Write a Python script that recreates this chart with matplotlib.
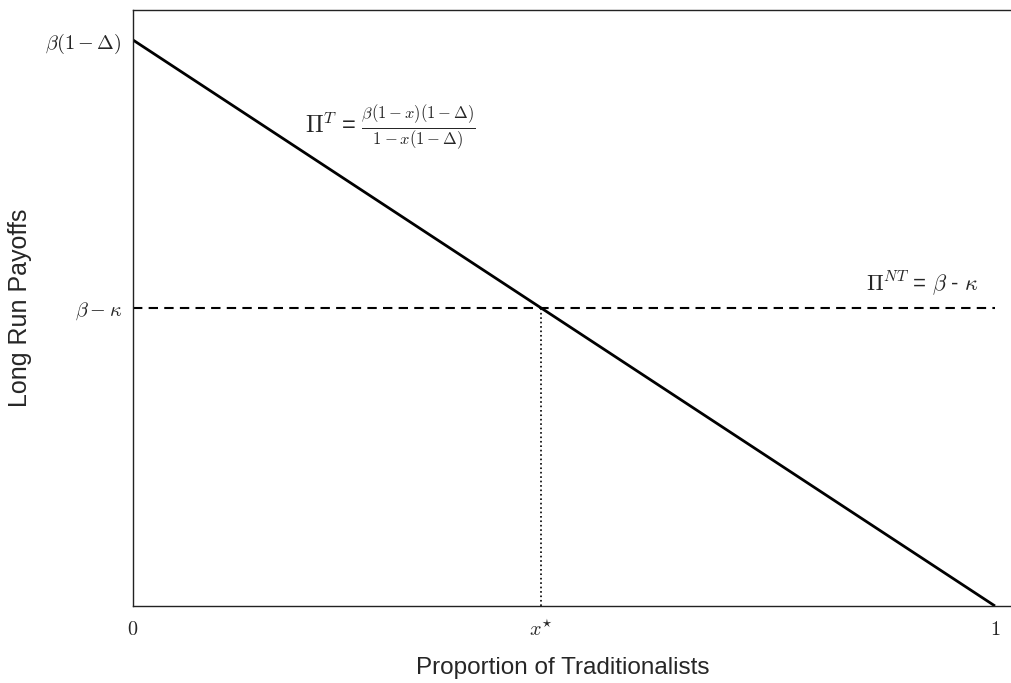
import matplotlib
matplotlib.use("Agg")
import matplotlib.pyplot as plt
import numpy as np

# data
x_vals = [0.0, 1.0]
payoff_T = [1.0, 0.0]           # beta(1-Delta) at x=0 down to 0 at x=1
payoff_NT = 0.5267              # beta - kappa
x_star = 0.4733
ytick_vals = [payoff_NT, 1.0]
ytick_labels = [r"$\beta - \kappa$", r"$\beta(1-\Delta)$"]
xtick_vals = [0.0, x_star, 1.0]
xtick_labels = [r"$0$", r"$x^{\star}$", r"$1$"]

plt.rcParams['mathtext.fontset'] = 'cm'
plt.rcParams['font.family'] = ['Liberation Sans', 'DejaVu Sans']
txt_color = '#262626'

fig = plt.figure(figsize=(10.12, 6.83), dpi=100)
W, H = 1012, 683
left, right, top, bottom = 133, 1040, 10, 606
ax = fig.add_axes([left / W, 1 - bottom / H, (right - left) / W, (bottom - top) / H])

ax.plot(x_vals, payoff_T, color='black', lw=2.0, solid_capstyle='butt')
ax.plot([0, 1], [payoff_NT, payoff_NT], color='black', lw=1.5, ls=(0, (4.5, 3)))
ax.plot([x_star, x_star], [0, payoff_NT], color='black', lw=1.2, ls=':')

x_per_px = 1 / 862
ax.set_xlim(0, (right - left) * x_per_px)
ax.set_ylim(0, (bottom - top) / 566)

ax.set_xticks(xtick_vals)
ax.set_xticklabels(xtick_labels, fontsize=14.5, color=txt_color)
ax.set_yticks(ytick_vals)
ax.set_yticklabels(ytick_labels, fontsize=14.5, color=txt_color)
ax.tick_params(axis='y', length=0, pad=8)
ax.tick_params(axis='x', length=0, pad=10)

for s in ax.spines.values():
    s.set_linewidth(1.0)
    s.set_color('#222222')

ax.set_ylabel("Long Run Payoffs", fontsize=18, color=txt_color)
ax.set_xlabel("Proportion of Traditionalists", fontsize=17.5, color=txt_color)
ax.xaxis.set_label_coords((563 - left) / (right - left), -(668 - bottom) / (bottom - top))
ax.yaxis.set_label_coords(-(133 - 20) / (right - left), 0.5)
ax.yaxis.label.set_verticalalignment('center')
ax.xaxis.label.set_verticalalignment('center')

ax.text(0.2, 0.845, r"$\Pi^T$ = $\frac{\beta(1-x)(1-\Delta)}{1-x(1-\Delta)}$",
        fontsize=17, va='center', ha='left', color=txt_color)
ax.text(0.85, 0.569, r"$\Pi^{NT}$ = $\beta$ - $\kappa$",
        fontsize=16, va='center', ha='left', color=txt_color)

fig.savefig("out.png", dpi=100)
